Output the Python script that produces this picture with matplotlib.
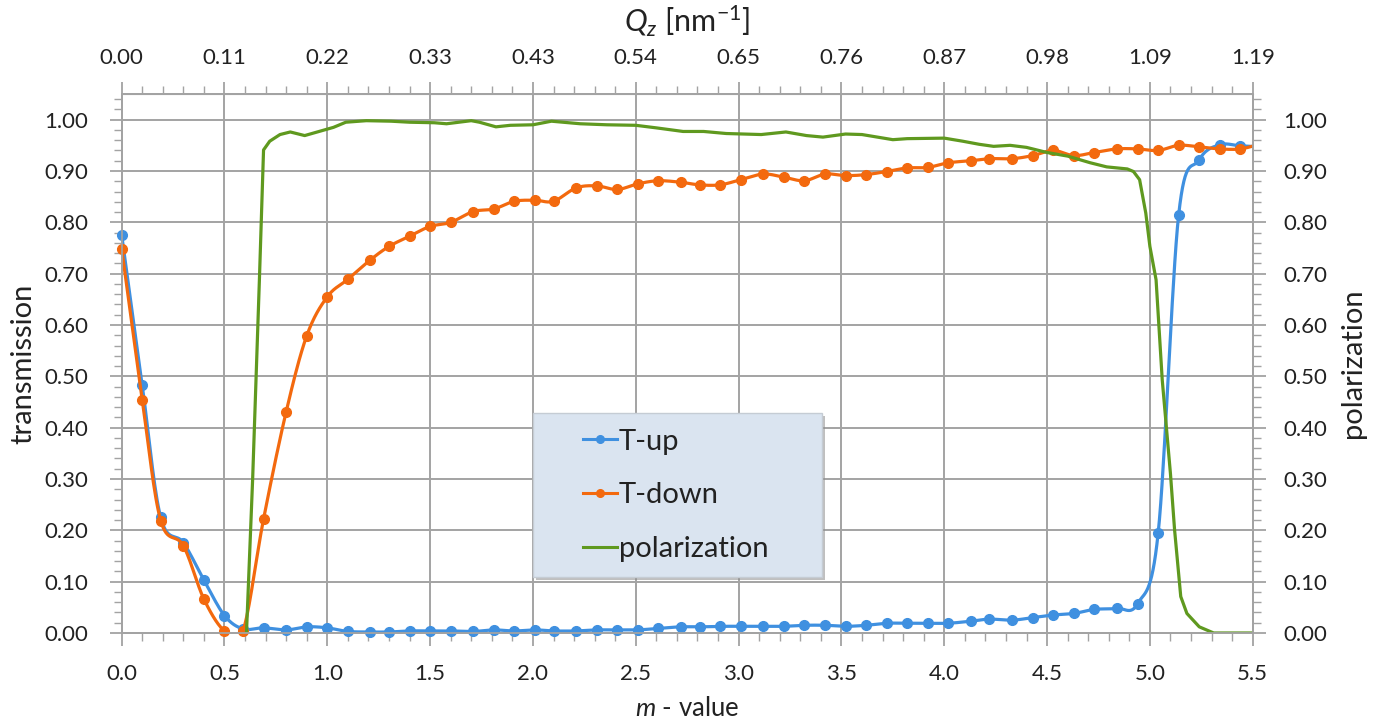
import numpy as np
import matplotlib.pyplot as plt
from matplotlib.ticker import MultipleLocator, FormatStrFormatter
from matplotlib.patches import Rectangle
from matplotlib.lines import Line2D

plt.rcParams['font.family'] = ['Lato', 'DejaVu Sans']
plt.rcParams['mathtext.fontset'] = 'custom'
plt.rcParams['mathtext.rm'] = 'Lato'
plt.rcParams['mathtext.it'] = 'Lato:italic'

# measured transmissions vs m-value
m_vals = [0.00, 0.10, 0.19, 0.30, 0.40, 0.50, 0.59, 0.69, 0.80, 0.90,
          1.00, 1.10, 1.21, 1.30, 1.40, 1.50, 1.60, 1.71, 1.81, 1.91,
          2.01, 2.10, 2.21, 2.31, 2.41, 2.51, 2.61, 2.72, 2.81, 2.91,
          3.01, 3.12, 3.22, 3.32, 3.42, 3.52, 3.62, 3.72, 3.82, 3.92,
          4.02, 4.13, 4.22, 4.33, 4.43, 4.53, 4.63, 4.73, 4.84, 4.94,
          5.04, 5.14, 5.24, 5.34, 5.44, 5.54]
t_up = [0.776, 0.483, 0.225, 0.176, 0.103, 0.034, 0.008, 0.010, 0.006, 0.012,
        0.010, 0.003, 0.002, 0.002, 0.004, 0.004, 0.004, 0.003, 0.006, 0.004,
        0.006, 0.004, 0.004, 0.006, 0.006, 0.006, 0.009, 0.012, 0.012, 0.013,
        0.013, 0.013, 0.013, 0.015, 0.015, 0.013, 0.015, 0.019, 0.019, 0.019,
        0.019, 0.023, 0.027, 0.025, 0.030, 0.035, 0.038, 0.046, 0.048, 0.057,
        0.194, 0.815, 0.922, 0.951, 0.949, 0.947]
t_down = [0.749, 0.454, 0.219, 0.170, 0.066, 0.004, 0.004, 0.222, 0.431, 0.579,
          0.655, 0.689, 0.727, 0.753, 0.773, 0.792, 0.800, 0.821, 0.826, 0.841,
          0.843, 0.841, 0.867, 0.871, 0.864, 0.875, 0.881, 0.878, 0.873, 0.873,
          0.883, 0.894, 0.888, 0.881, 0.894, 0.891, 0.893, 0.899, 0.906, 0.907,
          0.916, 0.920, 0.924, 0.924, 0.930, 0.940, 0.930, 0.936, 0.943, 0.943,
          0.940, 0.950, 0.947, 0.943, 0.943, 0.953]

# polarization curve (finer sampling)
pol_m = [0.607, 0.637, 0.67, 0.69, 0.72, 0.77, 0.82, 0.89, 0.96, 1.03,
         1.09, 1.19, 1.31, 1.40, 1.52, 1.58, 1.70, 1.74, 1.82, 1.89,
         2.00, 2.09, 2.23, 2.36, 2.50, 2.60, 2.73, 2.83, 2.94, 3.11,
         3.23, 3.33, 3.41, 3.52, 3.60, 3.75, 3.82, 4.00, 4.09, 4.17,
         4.24, 4.32, 4.40, 4.50, 4.60, 4.71, 4.79, 4.89, 4.92, 4.95,
         4.98, 5.00, 5.03, 5.06, 5.10, 5.12, 5.15, 5.18, 5.24, 5.31, 5.50]
pol = [0.000, 0.300, 0.690, 0.941, 0.958, 0.971, 0.976, 0.969, 0.977, 0.985,
       0.995, 0.998, 0.997, 0.995, 0.994, 0.992, 0.998, 0.995, 0.986, 0.989,
       0.990, 0.997, 0.992, 0.990, 0.989, 0.984, 0.977, 0.977, 0.973, 0.971,
       0.976, 0.969, 0.966, 0.972, 0.971, 0.961, 0.963, 0.964, 0.958, 0.952,
       0.948, 0.950, 0.946, 0.936, 0.929, 0.916, 0.908, 0.904, 0.899, 0.883,
       0.818, 0.753, 0.688, 0.493, 0.310, 0.201, 0.071, 0.038, 0.012, 0.000, 0.000]

m_ticks = [0.0, 0.5, 1.0, 1.5, 2.0, 2.5, 3.0, 3.5, 4.0, 4.5, 5.0, 5.5]
qz_labels = ['0.00', '0.11', '0.22', '0.33', '0.43', '0.54',
             '0.65', '0.76', '0.87', '0.98', '1.09', '1.19']

BLUE = '#3f90e0'
ORANGE = '#f3690e'
GREEN = '#5f991f'
GRAY = '#a3a3a3'
TXT = '#222222'


def smooth(x, y, n=16):
    # Catmull-Rom spline through the points, like a spreadsheet "smoothed line"
    p = np.column_stack([x, y]).astype(float)
    p = np.vstack([p[0], p, p[-1]])
    t = np.linspace(0, 1, n, endpoint=False)[:, None]
    out = []
    for i in range(1, len(p) - 2):
        p0, p1, p2, p3 = p[i - 1], p[i], p[i + 1], p[i + 2]
        seg = 0.5 * (2 * p1 + (-p0 + p2) * t
                     + (2 * p0 - 5 * p1 + 4 * p2 - p3) * t ** 2
                     + (-p0 + 3 * p1 - 3 * p2 + p3) * t ** 3)
        out.append(seg)
    out.append(p[-2][None, :])
    out = np.vstack(out)
    return out[:, 0], out[:, 1]


fig = plt.figure(figsize=(13.73, 7.23), dpi=100)
ax = fig.add_axes([0.0886, 0.1245, 0.8238, 0.7455])
ax2 = ax.twinx()

for a in (ax, ax2):
    a.set_xlim(0, 5.5)
    a.set_ylim(0, 1.05)
    for s in a.spines.values():
        s.set_color(GRAY)
        s.set_linewidth(1.3)
    a.yaxis.set_major_locator(MultipleLocator(0.1))
    a.yaxis.set_minor_locator(MultipleLocator(0.02))
    a.yaxis.set_major_formatter(FormatStrFormatter('%.2f'))
    a.tick_params(which='major', direction='out', length=9, width=1.3,
                  color=GRAY, labelsize=16, labelcolor=TXT)
    a.tick_params(which='minor', direction='out', length=6, width=1,
                  color=GRAY)
ax.tick_params(axis='y', which='major', pad=15)
ax2.tick_params(axis='y', which='major', pad=13)

ax.xaxis.set_major_locator(MultipleLocator(0.5))
ax.xaxis.set_minor_locator(MultipleLocator(0.1))
ax.xaxis.set_major_formatter(FormatStrFormatter('%.1f'))
ax.tick_params(axis='x', which='major', pad=13)
ax.grid(which='major', color=GRAY, lw=1.4)
ax.set_axisbelow(True)

# Qz scale on top
secx = ax.secondary_xaxis('top')
secx.set_xticks(m_ticks, labels=qz_labels)
secx.xaxis.set_minor_locator(MultipleLocator(0.1))
secx.spines['top'].set_color(GRAY)
secx.tick_params(which='major', direction='out', length=9, width=1.3,
                 color=GRAY, labelsize=16, labelcolor=TXT, pad=10)
secx.tick_params(which='minor', direction='out', length=6, width=1, color=GRAY)

# markers only for points inside the m range, drawn unclipped at the edges
inside = [i for i, m in enumerate(m_vals) if m <= 5.5]
mk_m = [m_vals[i] for i in inside]

bx, by = smooth(m_vals, t_up)
ax.plot(bx, by, color=BLUE, lw=2.3, zorder=3)
ax.plot(mk_m, [t_up[i] for i in inside], 'o', color=BLUE, ms=7, zorder=3,
        clip_on=False)
ox, oy = smooth(m_vals, t_down)
ax.plot(ox, oy, color=ORANGE, lw=2.3, zorder=4)
ax.plot(mk_m, [t_down[i] for i in inside], 'o', color=ORANGE, ms=7, zorder=4,
        clip_on=False)
ax2.plot(pol_m, pol, color=GREEN, lw=2.3)

ax.set_xlabel(r'$m$ - value', fontsize=18.5, labelpad=9, color=TXT)
ax.set_ylabel('transmission', fontsize=21, labelpad=6, color=TXT)
ax2.set_ylabel('polarization', fontsize=21, labelpad=9, color=TXT)
secx.set_xlabel(r'$Q_z$ [nm$^{-1}$]', fontsize=22, labelpad=11, color=TXT)

# legend box with drop shadow
x0, y0, w, h = 0.3637, 0.1045, 0.2553, 0.3042
ax2.add_patch(Rectangle((x0 + 0.003, y0 - 0.006), w, h, transform=ax2.transAxes,
                        facecolor='#8c8c8c', alpha=0.55, edgecolor='none', zorder=4))
ax2.add_patch(Rectangle((x0, y0), w, h, transform=ax2.transAxes,
                        facecolor='#dae4f0', edgecolor='#c5ccd4', lw=1, zorder=4.5))
handles = [Line2D([], [], color=BLUE, lw=2.2, marker='o', ms=5.5),
           Line2D([], [], color=ORANGE, lw=2.2, marker='o', ms=5.5),
           Line2D([], [], color=GREEN, lw=2.2)]
ax2.legend(handles, ['T-up', 'T-down', 'polarization'], loc='upper left',
           bbox_to_anchor=(0.408, 0.379), frameon=False, fontsize=21,
           handlelength=1.15, handletextpad=0.08, labelspacing=0.95,
           borderpad=0, borderaxespad=0, labelcolor=TXT)

fig.savefig('out.png', dpi=100)
